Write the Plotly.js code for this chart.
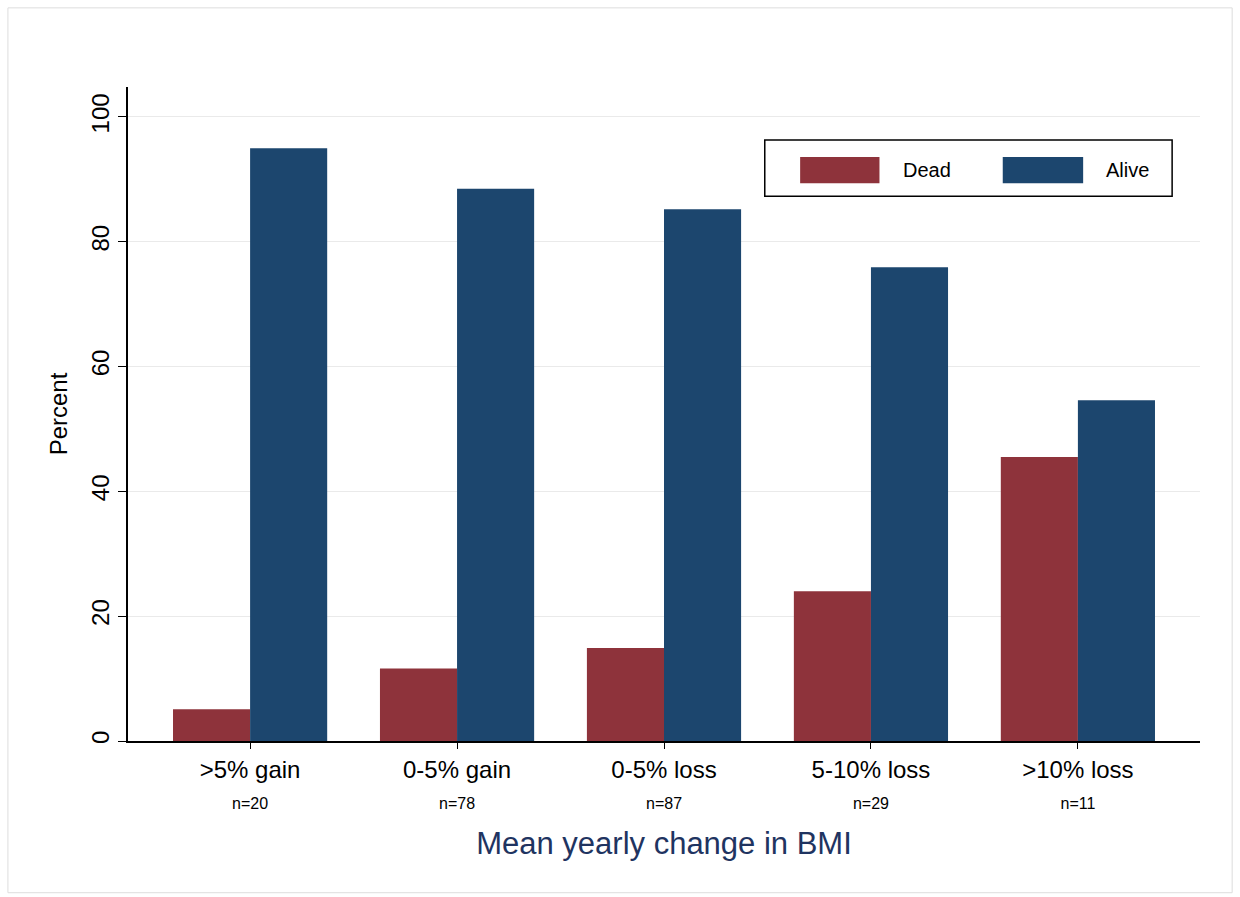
<!DOCTYPE html>
<html>
<head>
<script src="https://cdn.plot.ly/plotly-3.0.1.min.js"></script>
<style>body{margin:0;background:#fff}</style>
</head>
<body>
<div id="chart" style="width:1240px;height:897px"></div>
<script>
// data
var groups = [">5% gain", "0-5% gain", "0-5% loss", "5-10% loss", ">10% loss"];
var counts = ["n=20", "n=78", "n=87", "n=29", "n=11"];
var dead = [5.1, 11.6, 14.9, 24.0, 45.5];
var alive = [95.0, 88.5, 85.2, 75.9, 54.6];
var deadColor = "#8e333b";
var aliveColor = "#1c466e";

var positions = groups.map(function (g, i) { return i; });
var tickLabels = groups.map(function (g, i) {
  return g + "<br><span style='font-size:16px'>" + counts[i] + "</span>";
});

var data = [
  { type: "bar", name: "Dead", x: positions, y: dead, marker: { color: deadColor } },
  { type: "bar", name: "Alive", x: positions, y: alive, marker: { color: aliveColor } }
];

// legend drawn by hand so it does not push the margins
var layout = {
  width: 1240,
  height: 897,
  margin: { l: 128, r: 40, t: 87, b: 156 },
  paper_bgcolor: "#fff",
  plot_bgcolor: "#fff",
  font: { family: "Liberation Sans, Arial, sans-serif", color: "#000" },
  showlegend: false,
  barmode: "group",
  bargap: 0.255,
  bargroupgap: 0,
  xaxis: {
    range: [-0.59, 4.59],
    tickvals: positions,
    ticktext: tickLabels,
    tickfont: { size: 24 },
    showline: true, linecolor: "#000", linewidth: 1.5,
    ticks: "outside", ticklen: 6, tickcolor: "#000",
    showgrid: false, zeroline: false,
    title: { text: "Mean yearly change in BMI", font: { size: 31, color: "#1f3461" }, standoff: 22 }
  },
  yaxis: {
    range: [0, 104.8],
    tickvals: [0, 20, 40, 60, 80, 100],
    tickangle: -90,
    tickfont: { size: 24 },
    showline: true, linecolor: "#000", linewidth: 1.5,
    ticks: "outside", ticklen: 8, tickcolor: "#000",
    showgrid: true, gridcolor: "#eaeaea",
    zeroline: false,
    title: { text: "Percent", font: { size: 24 }, standoff: 12 }
  },
  shapes: [
    { type: "rect", xref: "paper", yref: "paper", x0: -0.112, x1: 1.03, y0: -0.232, y1: 1.121,
      line: { color: "#dddddd", width: 1 } },
    { type: "rect", xref: "paper", yref: "paper", x0: 0.594, x1: 0.974, y0: 0.833, y1: 0.919,
      fillcolor: "#fff", line: { color: "#000", width: 1.5 } },
    { type: "rect", xref: "paper", yref: "paper", x0: 0.627, x1: 0.701, y0: 0.853, y1: 0.893,
      fillcolor: deadColor, line: { width: 0 } },
    { type: "rect", xref: "paper", yref: "paper", x0: 0.816, x1: 0.891, y0: 0.853, y1: 0.893,
      fillcolor: aliveColor, line: { width: 0 } }
  ],
  annotations: [
    { xref: "paper", yref: "paper", x: 0.745, y: 0.873, xanchor: "center", yanchor: "middle",
      text: "Dead", showarrow: false, font: { size: 20 } },
    { xref: "paper", yref: "paper", x: 0.932, y: 0.873, xanchor: "center", yanchor: "middle",
      text: "Alive", showarrow: false, font: { size: 20 } }
  ]
};

Plotly.newPlot("chart", data, layout, { displayModeBar: false });
</script>
</body>
</html>
